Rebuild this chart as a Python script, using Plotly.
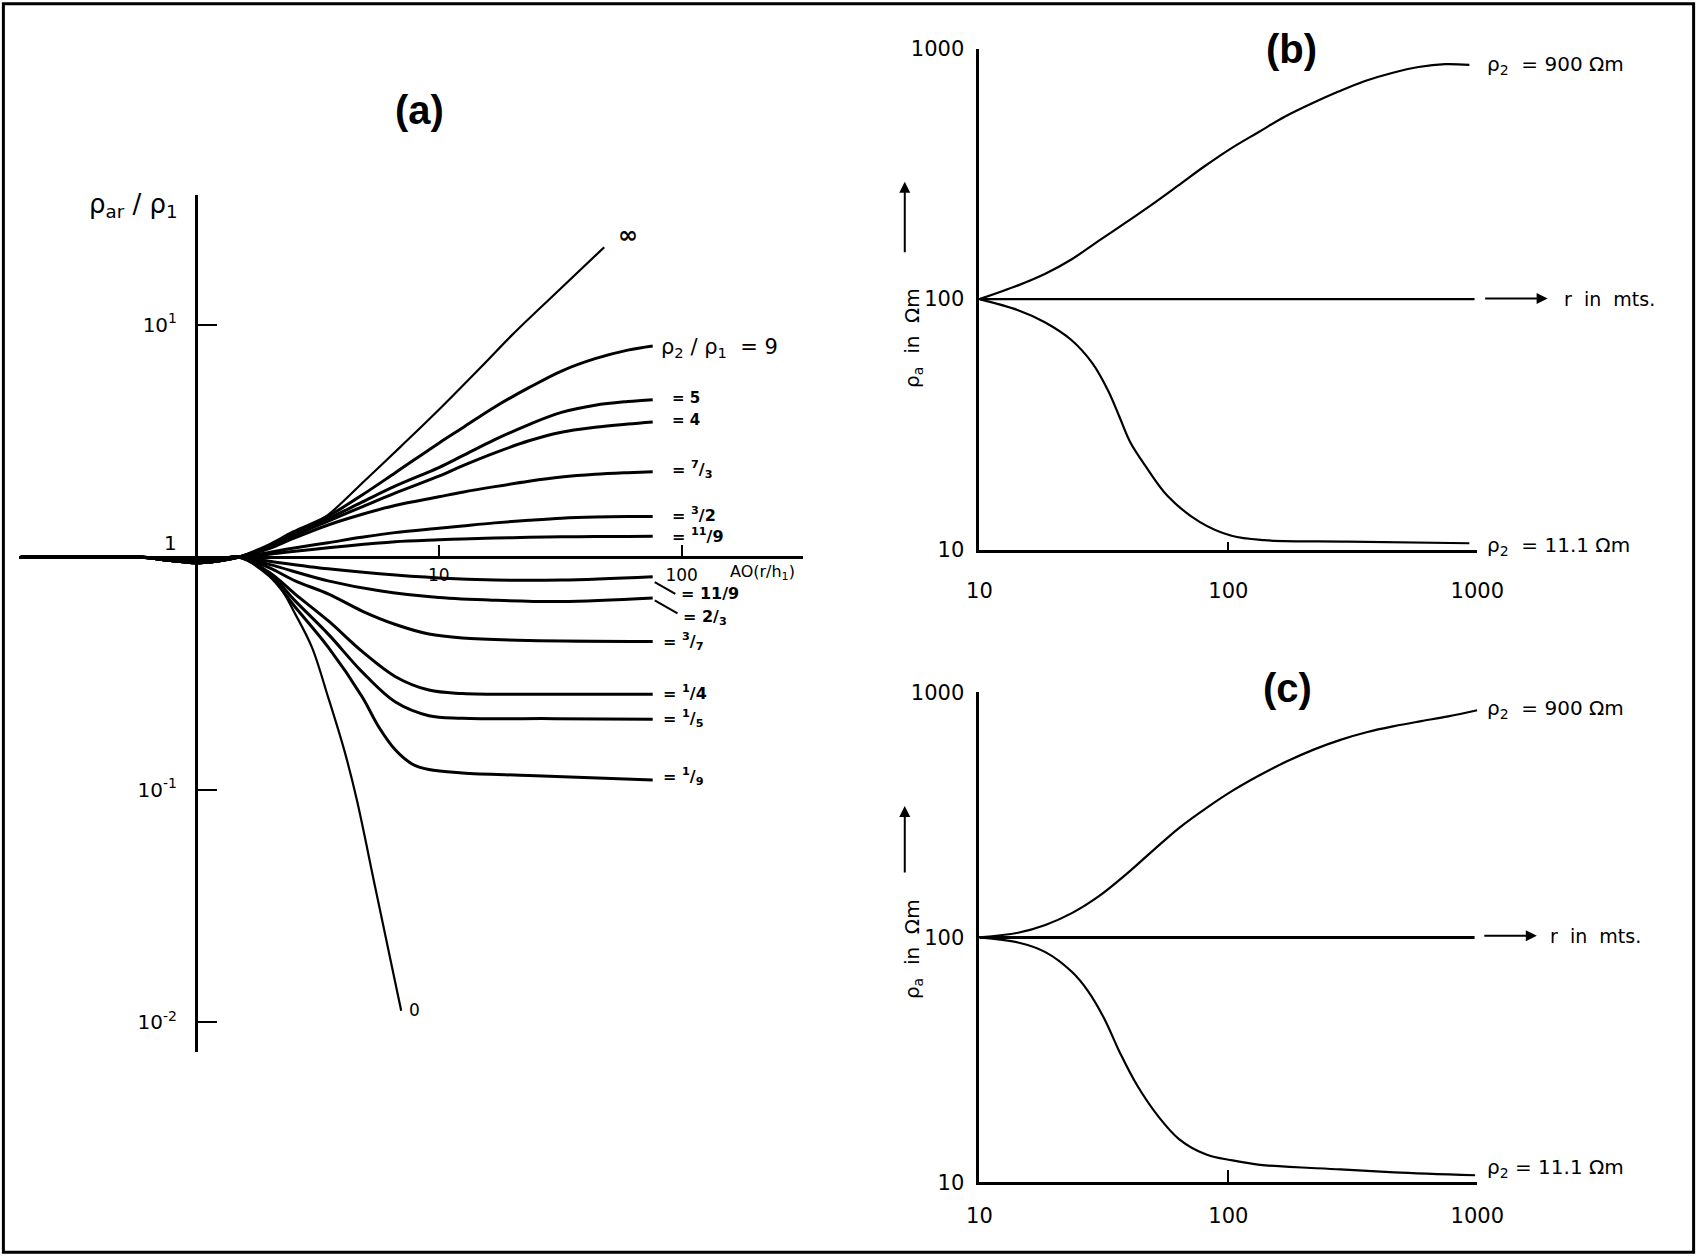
import plotly.graph_objects as go

W, H = 1697, 1256
SW, SH = 1568.0, 1161.0  # layout grid of the reference (scaled)


def px(xs):
    return xs / SW


def py(ys):
    return 1 - ys / SH


# ---------------- Panel (a) data : rho_ar / rho_1 vs AO (r/h1) ----------------
DIP_AO = [0.19, 0.57, 0.8, 1.0, 1.25]
DIP_UP = [1.0, 1.0, 0.965, 0.945, 0.965]
DIP_DOWN = [1.0, 1.0, 0.978, 0.968, 0.978]

AO_INF = [1.5, 2, 2.5, 3, 3.5, 5, 7, 10, 15, 20, 30, 48]
RHO_INF = [1.0, 1.1, 1.25, 1.38, 1.52, 2.15, 3.0, 4.3, 6.6, 9.0, 13.5, 21.5]

AO_UP = [1.5, 2, 2.5, 3.5, 4.8, 6.6, 10, 12.5, 17, 23.5, 32, 44, 60, 76]
RHO_9 = [1.0, 1.13, 1.28, 1.50, 1.84, 2.30, 3.09, 3.59, 4.42, 5.35, 6.31, 7.13, 7.76, 8.09]
RHO_5 = [1.0, 1.109, 1.245, 1.462, 1.718, 2.018, 2.427, 2.723, 3.199, 3.715, 4.188, 4.498, 4.667, 4.753]
RHO_4 = [1.0, 1.104, 1.230, 1.429, 1.641, 1.884, 2.228, 2.466, 2.805, 3.162, 3.443, 3.614, 3.733, 3.811]
RHO_7_3 = [1.0, 1.089, 1.2, 1.374, 1.524, 1.667, 1.816, 1.901, 2.009, 2.118, 2.208, 2.270, 2.307, 2.328]
RHO_3_2 = [1.0, 1.047, 1.091, 1.153, 1.216, 1.274, 1.330, 1.361, 1.403, 1.439, 1.469, 1.486, 1.493, 1.493]
RHO_11_9 = [1.0, 1.028, 1.057, 1.096, 1.132, 1.164, 1.186, 1.197, 1.208, 1.216, 1.222, 1.225, 1.227, 1.230]

AO_L1 = [1.5, 2.0, 3.5, 5.7, 10, 17, 32, 76]
RHO_9_11 = [1.0, 0.96, 0.89, 0.847, 0.813, 0.797, 0.797, 0.824]
RHO_2_3 = [1.0, 0.93, 0.79, 0.716, 0.67, 0.652, 0.644, 0.667]
AO_L2 = [1.5, 2.0, 2.56, 3.52, 4.83, 6.63, 9.1, 12.5, 23.5, 76]
RHO_3_7 = [1.0, 0.9, 0.79, 0.693, 0.586, 0.513, 0.467, 0.449, 0.438, 0.434]
AO_L3 = [1.5, 2.0, 2.56, 3.52, 4.83, 6.63, 9.1, 12.5, 30, 76]
RHO_1_4 = [1.0, 0.86, 0.693, 0.53, 0.393, 0.306, 0.268, 0.259, 0.257, 0.257]
RHO_1_5 = [1.0, 0.85, 0.648, 0.464, 0.321, 0.238, 0.208, 0.203, 0.202, 0.201]
AO_L4 = [1.5, 2.0, 2.56, 3.52, 4.83, 5.66, 6.63, 7.76, 9.1, 12.5, 23.5, 76]
RHO_1_9 = [1.0, 0.832, 0.610, 0.407, 0.251, 0.186, 0.148, 0.129, 0.122, 0.118, 0.115, 0.110]
AO_ZERO = [1.5, 1.8, 2.2, 2.56, 3.0, 3.5, 4.1, 4.6, 5.5, 7.0]
RHO_ZERO = [1.0, 0.92, 0.75, 0.57, 0.41, 0.25, 0.145, 0.09, 0.037, 0.0112]

A_YTICKS = [0.01, 0.1, 1, 10]
A_YTEXT = ["10<sup>-2</sup>", "10<sup>-1</sup>", "", "10<sup>1</sup>"]
A_XTICKS = [10, 100]
A_XTEXT = ["10", "100"]

# ---------------- Panel (b) data ----------------
B_R_HIGH = [10, 11.7, 14.3, 18.3, 23.4, 29.9, 38.4, 49.1, 62.8, 80.5, 103, 132, 169,
            216, 277, 354, 454, 581, 743, 929]
B_RHO_HIGH = [100, 105.6, 113.5, 126, 144, 170, 201, 238, 284, 340, 401, 464, 536,
              604, 674, 743, 800, 845, 867, 861]
B_R_LOW = [10, 14.3, 18.3, 23.4, 28.5, 33.0, 36.5, 40.3, 46.7, 56.9, 76.6, 103, 139, 300, 929]
B_RHO_LOW = [100, 90.3, 80.9, 68.7, 55.3, 42.8, 33.9, 26.9, 21.4, 16.4, 12.9, 11.35, 10.9, 10.75, 10.6]

# ---------------- Panel (c) data ----------------
C_R_HIGH = [10, 14.3, 18.4, 23.5, 30.1, 38.6, 49.5, 63.5, 81.5, 104, 134, 172, 220,
            282, 362, 464, 595, 764, 1000]
C_RHO_HIGH = [100, 104.5, 112.4, 125.6, 147, 180, 225, 280, 337, 397, 460, 523, 584,
              640, 689, 728, 763, 798, 845]
C_R_LOW = [10, 14.3, 18.4, 23.5, 27.3, 31.7, 36.8, 42.8, 52.1, 63.5, 81.5, 104, 134, 282, 464, 980]
C_RHO_LOW = [100, 95.3, 87.1, 72.4, 60.4, 46.7, 33.6, 25.1, 18.7, 15.0, 13.0, 12.3, 11.8, 11.3, 11.0, 10.7]

R_BASE = [10, 975]
RHO_BASE = [100, 100]
BC_TICKS = [10, 100, 1000]
BC_TEXT = ["10", "100", "1000"]

FONT = "DejaVu Sans"
fig = go.Figure()


def line(x, y, xa, ya, w=2.2):
    fig.add_trace(go.Scatter(x=x, y=y, mode="lines", xaxis=xa, yaxis=ya,
                             line=dict(color="black", width=w, shape="spline", smoothing=1.0),
                             hoverinfo="skip", showlegend=False))


# panel (a)
line(DIP_AO + AO_INF, DIP_UP + RHO_INF, "x", "y", 2.2)
for rho in [RHO_9, RHO_5, RHO_4, RHO_7_3, RHO_3_2, RHO_11_9]:
    line(DIP_AO + AO_UP, DIP_UP + rho, "x", "y", 3)
line(DIP_AO + AO_L1, DIP_DOWN + RHO_9_11, "x", "y", 3)
line(DIP_AO + AO_L1, DIP_DOWN + RHO_2_3, "x", "y", 3)
line(DIP_AO + AO_L2, DIP_DOWN + RHO_3_7, "x", "y", 3)
line(DIP_AO + AO_L3, DIP_DOWN + RHO_1_4, "x", "y", 3)
line(DIP_AO + AO_L3, DIP_DOWN + RHO_1_5, "x", "y", 3)
line(DIP_AO + AO_L4, DIP_DOWN + RHO_1_9, "x", "y", 3)
line(DIP_AO + AO_ZERO, DIP_DOWN + RHO_ZERO, "x", "y", 2.2)

# panel (b)
line(R_BASE, RHO_BASE, "x2", "y2", 2.2)
line(B_R_HIGH, B_RHO_HIGH, "x2", "y2", 2.2)
line(B_R_LOW, B_RHO_LOW, "x2", "y2", 2.2)

# panel (c)
line(R_BASE, RHO_BASE, "x3", "y3", 3)
line(C_R_HIGH, C_RHO_HIGH, "x3", "y3", 2.2)
line(C_R_LOW, C_RHO_LOW, "x3", "y3", 2.2)

# ---- axes geometry ----
XA_RANGE = [-0.727, 2.5]
XA_DOM = [px(18), px(742)]
YA_RANGE = [-2.126, 1.558]
YA_DOM = [py(972), py(180)]
ya_pos = XA_DOM[0] + (0 - XA_RANGE[0]) / (XA_RANGE[1] - XA_RANGE[0]) * (XA_DOM[1] - XA_DOM[0])
xa_pos = YA_DOM[0] + (0 - YA_RANGE[0]) / (YA_RANGE[1] - YA_RANGE[0]) * (YA_DOM[1] - YA_DOM[0])

common = dict(showgrid=False, zeroline=False, showline=True, linecolor="black",
              linewidth=3, ticks="inside", tickcolor="black", tickwidth=2, type="log")

layout = dict(
    width=W, height=H, margin=dict(l=0, r=0, t=0, b=0, pad=0, autoexpand=False),
    paper_bgcolor="white", plot_bgcolor="white", showlegend=False,
    font=dict(family=FONT, color="black"),
    xaxis=dict(common, domain=XA_DOM, range=XA_RANGE, anchor="free", position=xa_pos,
               tickvals=A_XTICKS, ticktext=A_XTEXT, ticklen=11, ticklabelstandoff=2,
               tickfont=dict(size=17, family=FONT)),
    yaxis=dict(common, domain=YA_DOM, range=YA_RANGE, anchor="free", position=ya_pos,
               tickvals=A_YTICKS, ticktext=A_YTEXT, ticklen=19, ticklabelstandoff=14,
               tickfont=dict(size=20, family=FONT)),
    xaxis2=dict(common, domain=[px(905), px(1365)], range=[1, 3], anchor="y2",
                tickvals=BC_TICKS, ticktext=BC_TEXT, ticklen=8, ticklabelstandoff=20,
                tickfont=dict(size=21, family=FONT)),
    yaxis2=dict(common, domain=[py(508), py(45)], range=[1, 3], anchor="x2",
                tickvals=BC_TICKS, ticktext=BC_TEXT, ticklen=15, ticklabelstandoff=8,
                tickfont=dict(size=21, family=FONT)),
    xaxis3=dict(common, domain=[px(905), px(1365)], range=[1, 3], anchor="y3",
                tickvals=BC_TICKS, ticktext=BC_TEXT, ticklen=12, ticklabelstandoff=12,
                tickfont=dict(size=21, family=FONT)),
    yaxis3=dict(common, domain=[py(1093), py(640)], range=[1, 3], anchor="x3",
                tickvals=BC_TICKS, ticktext=BC_TEXT, ticklen=15, ticklabelstandoff=8,
                tickfont=dict(size=21, family=FONT)),
)
fig.update_layout(**layout)

ann = []


def text(xs, ys, t, size=18, anchor="left", bold=False, fam=FONT, angle=0):
    ann.append(dict(x=px(xs), y=py(ys), xref="paper", yref="paper", text=t,
                    showarrow=False, xanchor=anchor, yanchor="middle", textangle=angle,
                    font=dict(size=size, family=fam, color="black",
                              weight="bold" if bold else "normal")))


def arrow(xh, yh, axp, ayp):
    ann.append(dict(x=px(xh), y=py(yh), xref="paper", yref="paper", text="",
                    showarrow=True, ax=axp, ay=ayp, arrowhead=2, arrowsize=1.1,
                    arrowwidth=2, arrowcolor="black"))


# titles
text(388, 102, "(a)", 40, "center", True, "Liberation Sans")
text(1193, 45, "(b)", 40, "center", True, "Liberation Sans")
text(1190, 636, "(c)", 40, "center", True, "Liberation Sans")

# panel (a) texts
text(80, 190, "ρ<sub>ar</sub> / ρ<sub>1</sub>", 26)
text(158, 502, "1", 20, "center")
text(673, 529, "AO(r/h<sub>1</sub>)", 16)
text(569, 217, "∞", 24, bold=True)
text(609, 322, "ρ<sub>2</sub> / ρ<sub>1</sub>  = 9", 21)
text(619, 368, "= 5", 15, bold=True)
text(619, 388, "= 4", 15, bold=True)
text(619, 434, "= <sup>7</sup>/<sub>3</sub>", 16, bold=True)
text(619, 476, "= <sup>3</sup>/2", 16, bold=True)
text(619, 495, "= <sup>11</sup>/9", 16, bold=True)
text(627, 549, "= 11/9", 16, bold=True)
text(629, 571, "= 2/<sub>3</sub>", 16, bold=True)
text(611, 593, "= <sup>3</sup>/<sub>7</sub>", 16, bold=True)
text(611, 640, "= <sup>1</sup>/4", 16, bold=True)
text(611, 664, "= <sup>1</sup>/<sub>5</sub>", 16, bold=True)
text(611, 718, "= <sup>1</sup>/<sub>9</sub>", 16, bold=True)
text(376, 934, "0", 17)

# panel (b) texts
text(1372, 60, "ρ<sub>2</sub>  = 900 Ωm", 20)
text(1372, 505, "ρ<sub>2</sub>  = 11.1 Ωm", 20)
text(1443, 276, "r  in  mts.", 19)
text(843, 312, "ρ<sub>a</sub>  in  Ωm", 20, "center", angle=-90)
arrow(1430, 276, -64, 0)
arrow(836, 168, 0, 72)

# panel (c) texts
text(1372, 655, "ρ<sub>2</sub>  = 900 Ωm", 20)
text(1372, 1080, "ρ<sub>2</sub> = 11.1 Ωm", 20)
text(1430, 865, "r  in  mts.", 19)
text(843, 877, "ρ<sub>a</sub>  in  Ωm", 20, "center", angle=-90)
arrow(1420, 865, -54, 0)
arrow(836, 745, 0, 68)

fig.update_layout(annotations=ann)

shapes = [
    dict(type="rect", xref="paper", yref="paper", x0=0.002, x1=0.998, y0=0.003, y1=0.997,
         line=dict(color="black", width=3)),
    dict(type="line", xref="paper", yref="paper", x0=px(605), y0=py(538), x1=px(624), y1=py(549),
         line=dict(color="black", width=2)),
    dict(type="line", xref="paper", yref="paper", x0=px(605), y0=py(555), x1=px(626), y1=py(567),
         line=dict(color="black", width=2)),
]
fig.update_layout(shapes=shapes)

fig.write_html(
    "out.html",
    config={"displayModeBar": False, "responsive": False},
    post_script="document.body.style.margin='0px';document.body.style.padding='0px';"
                "document.body.style.overflow='hidden';",
)
